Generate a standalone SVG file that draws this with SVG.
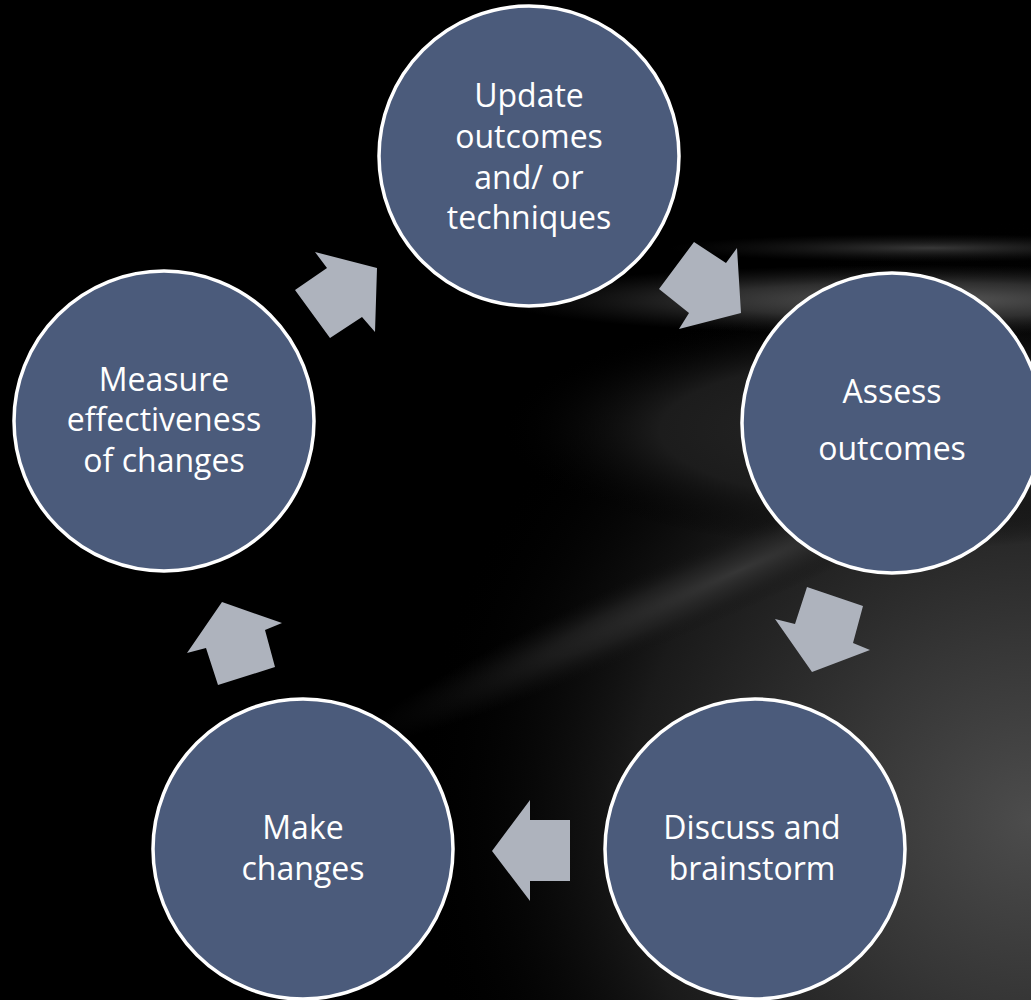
<svg xmlns="http://www.w3.org/2000/svg" width="1031" height="1000" viewBox="0 0 1031 1000">
<defs>
<radialGradient id="gCorner" cx="1" cy="0.82" r="0.6">
<stop offset="0" stop-color="#4c4c4c"/>
<stop offset="0.3" stop-color="#363636"/>
<stop offset="0.65" stop-color="#1a1a1a"/>
<stop offset="1" stop-color="#000" stop-opacity="0"/>
</radialGradient>
<radialGradient id="gMid" cx="0.5" cy="0.5" r="0.5">
<stop offset="0" stop-color="#282828"/>
<stop offset="0.6" stop-color="#1c1c1c"/>
<stop offset="1" stop-color="#000" stop-opacity="0"/>
</radialGradient>
<radialGradient id="gBand" cx="0.5" cy="0.5" r="0.5">
<stop offset="0" stop-color="#5a5a5a"/>
<stop offset="0.5" stop-color="#3a3a3a" stop-opacity="0.8"/>
<stop offset="1" stop-color="#222" stop-opacity="0"/>
</radialGradient>
<radialGradient id="gBand2" cx="0.5" cy="0.5" r="0.5">
<stop offset="0" stop-color="#383838"/>
<stop offset="1" stop-color="#1a1a1a" stop-opacity="0"/>
</radialGradient>
<radialGradient id="gStreak" cx="0.5" cy="0.5" r="0.5">
<stop offset="0" stop-color="#363636"/>
<stop offset="0.5" stop-color="#242424" stop-opacity="0.7"/>
<stop offset="1" stop-color="#111" stop-opacity="0"/>
</radialGradient>
<style>
.node circle{fill:#4b5b7b;stroke:#fff;stroke-width:3.5}
.node text{fill:#fff;font-family:"Open Sans","Noto Sans",sans-serif;font-size:32px;text-anchor:middle}
.arrow{fill:#aeb3bd}
</style>
</defs>
<g id="background">
<rect width="1031" height="1000" fill="#000"/>
<rect x="0" y="0" width="1031" height="1000" fill="url(#gCorner)"/>
<ellipse cx="900" cy="430" rx="400" ry="120" fill="url(#gMid)"/>
<ellipse cx="920" cy="300" rx="420" ry="35" fill="url(#gBand)"/>
<ellipse cx="930" cy="248" rx="260" ry="14" fill="url(#gBand2)"/>
<ellipse cx="740" cy="570" rx="420" ry="38" fill="url(#gStreak)" transform="rotate(-24 740 570)"/>
</g>
<g id="connectors">
<polygon class="arrow" points="315,252 377,268 375,332 362,317 330,338 295,290 327,268"/>
<polygon class="arrow" points="694,242 726,263 737,248 741,313 679,329 689,313 659,289"/>
<polygon class="arrow" points="807,587 863,606 853,643 870,650 812,672 775,619 795,624"/>
<polygon class="arrow" points="530,800 530,820 570,820 570,881 530,881 530,901 492,851"/>
<polygon class="arrow" points="222,602 282,623 265,630 275,667 218,685 206,648 187,653"/>
</g>
<g id="node-update" class="node">
<circle cx="529" cy="156" r="150"/>
<text x="529" y="107">Update</text>
<text x="529" y="148">outcomes</text>
<text x="529" y="189">and/ or</text>
<text x="529" y="229">techniques</text>
</g>
<g id="node-assess" class="node">
<circle cx="892" cy="423" r="150"/>
<text x="892" y="403">Assess</text>
<text x="892" y="460">outcomes</text>
</g>
<g id="node-discuss" class="node">
<circle cx="755" cy="849" r="150"/>
<text x="752" y="839">Discuss and</text>
<text x="752" y="880">brainstorm</text>
</g>
<g id="node-make" class="node">
<circle cx="303" cy="849" r="150"/>
<text x="303" y="839">Make</text>
<text x="303" y="880">changes</text>
</g>
<g id="node-measure" class="node">
<circle cx="164" cy="421" r="150"/>
<text x="164" y="391">Measure</text>
<text x="164" y="431">effectiveness</text>
<text x="164" y="472">of changes</text>
</g>
</svg>
